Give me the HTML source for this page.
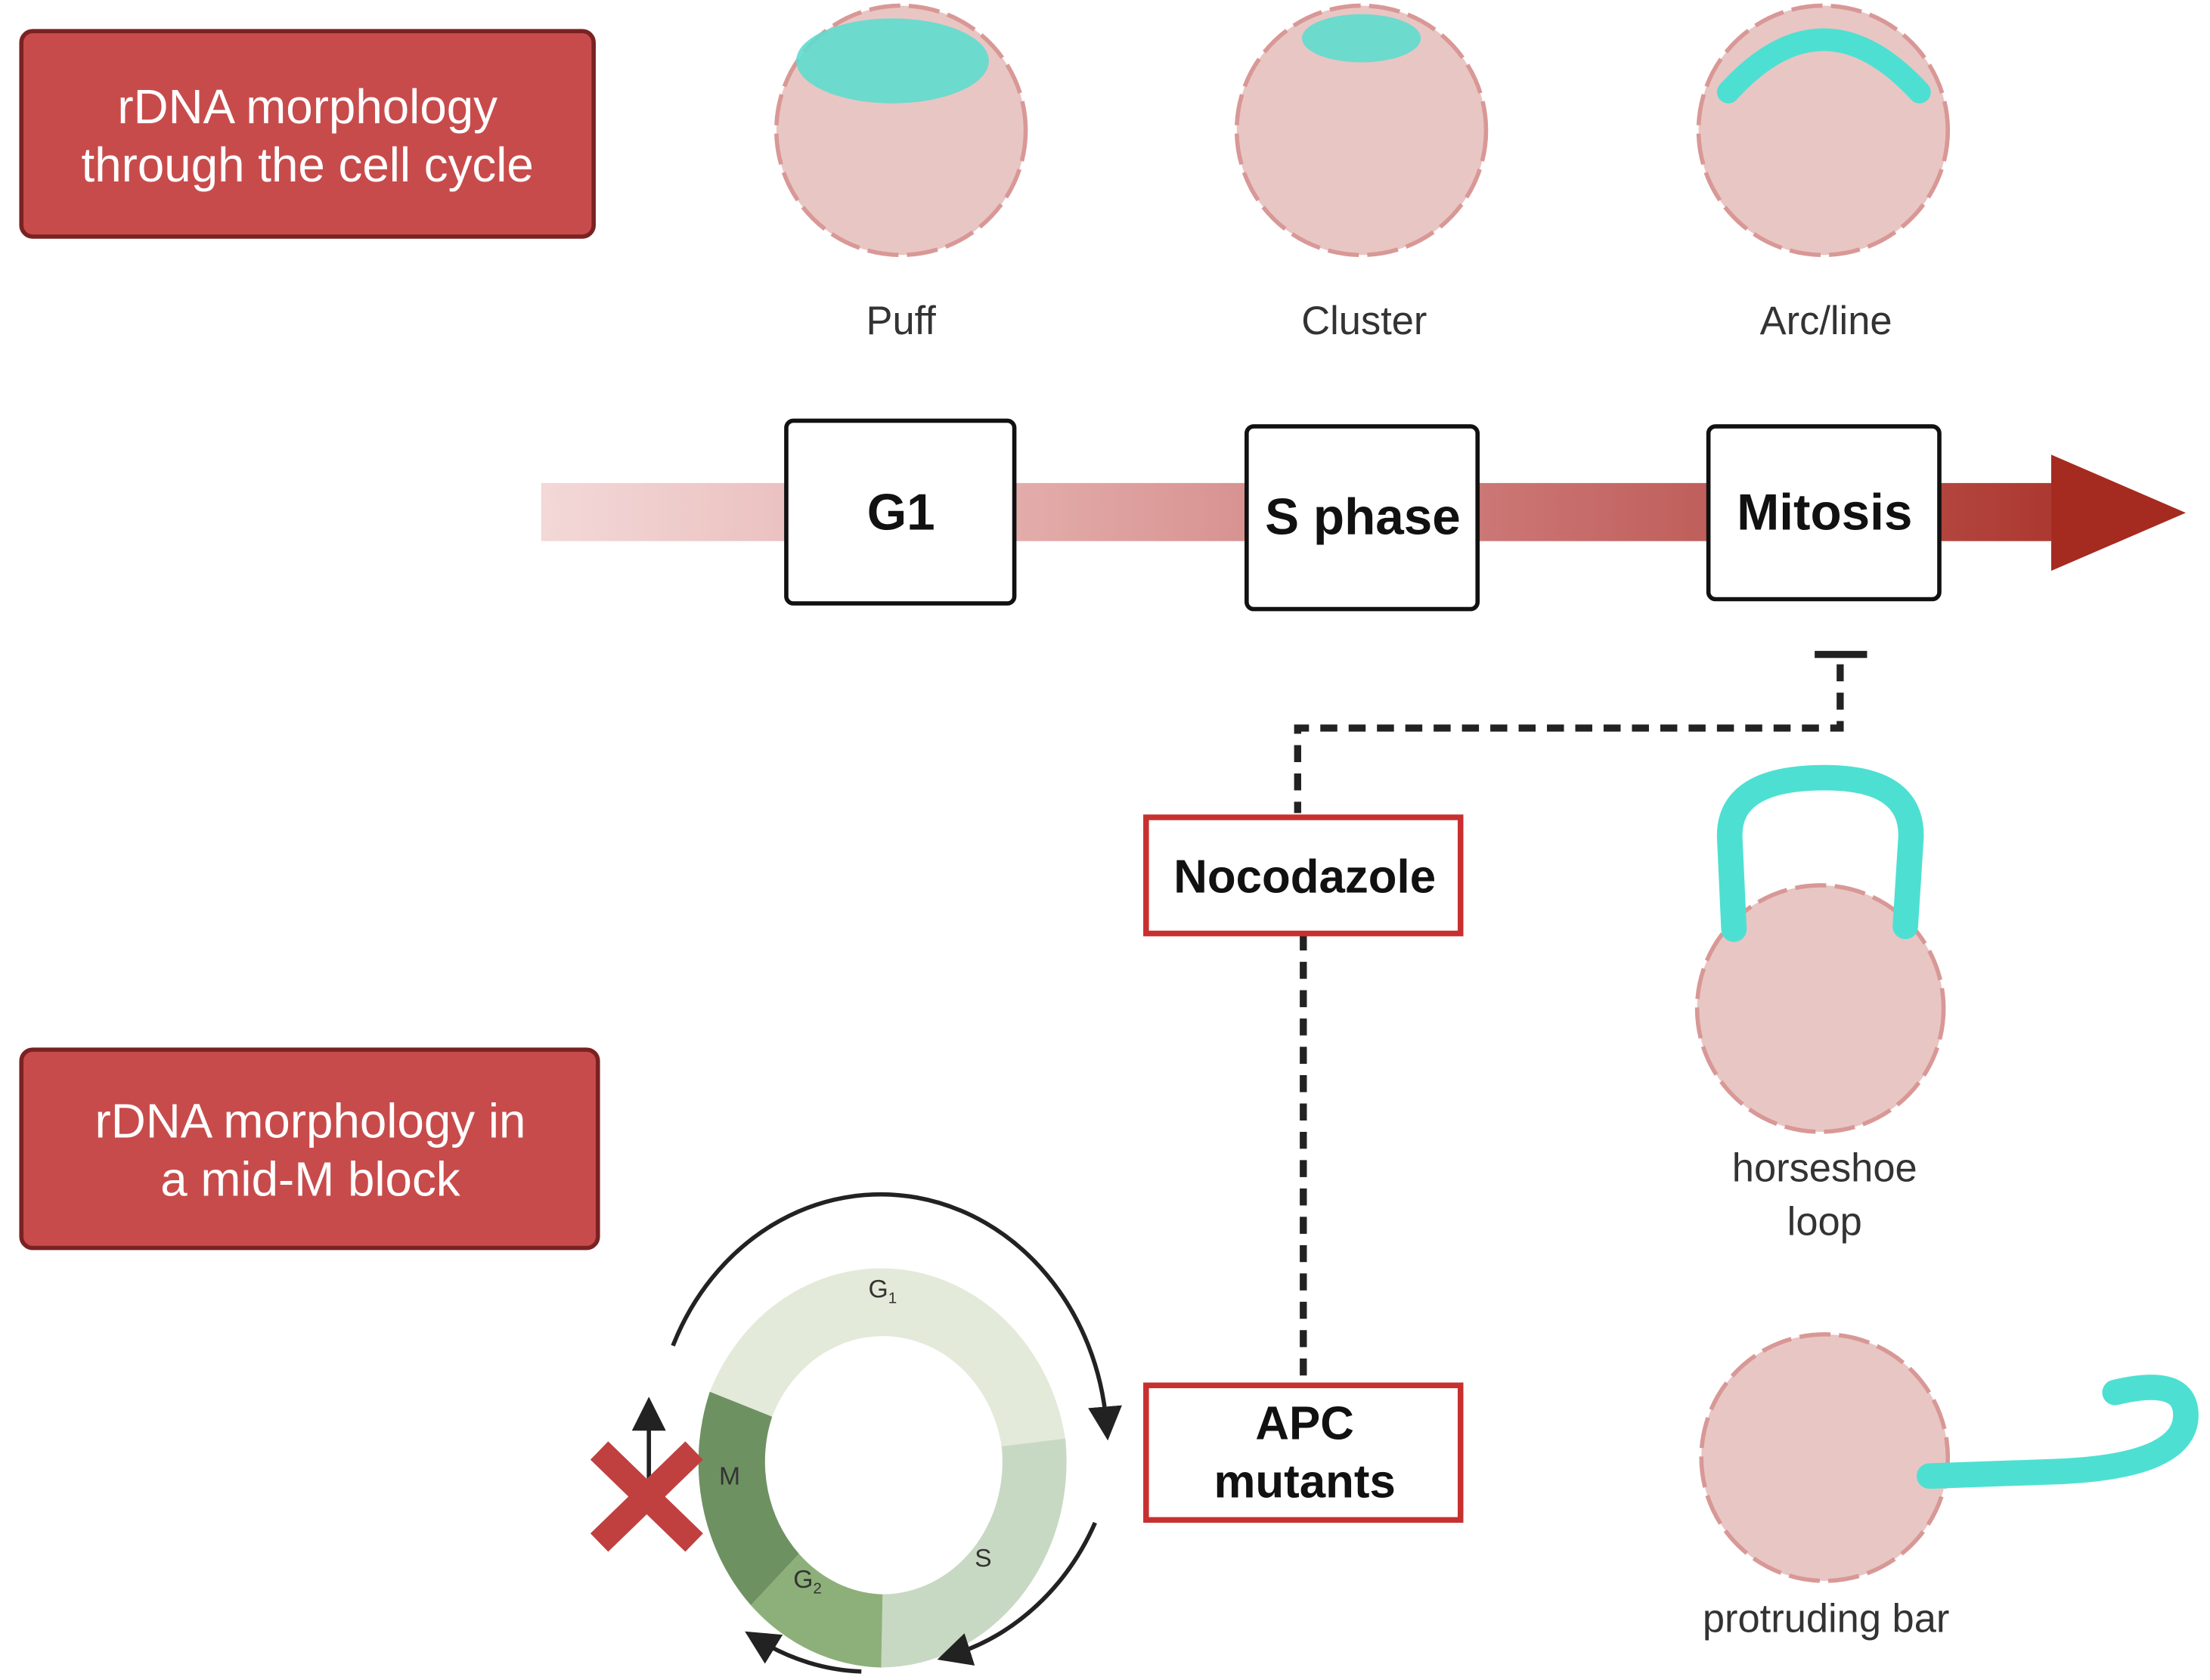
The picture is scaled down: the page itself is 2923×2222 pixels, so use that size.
<!DOCTYPE html>
<html><head><style>html,body{margin:0;padding:0;background:#fff}svg{display:block}</style></head>
<body>
<svg width="2923" height="2222" viewBox="0 0 1560 1186" xmlns="http://www.w3.org/2000/svg" font-family="Liberation Sans, sans-serif">
<defs>
<linearGradient id="ag" x1="384" x2="1545" y1="0" y2="0" gradientUnits="userSpaceOnUse">
<stop offset="0" stop-color="#f3d8d8"/><stop offset="0.3" stop-color="#e2aaa8"/><stop offset="0.6" stop-color="#c97270"/><stop offset="1" stop-color="#a52a20"/>
</linearGradient>
<marker id="ah" markerWidth="8" markerHeight="8" refX="4" refY="4" orient="auto" markerUnits="strokeWidth"><path d="M0,0 L8,4 L0,8 z" fill="#222"/></marker>
</defs>
<rect x="15" y="22" width="404" height="145" rx="8" fill="#c84b4b" stroke="#7a2222" stroke-width="3"/>
<text x="217" y="87" fill="#fff" font-size="34" text-anchor="middle">rDNA morphology</text>
<text x="217" y="128" fill="#fff" font-size="34" text-anchor="middle">through the cell cycle</text>
<rect x="15" y="741" width="407" height="140" rx="8" fill="#c84b4b" stroke="#7a2222" stroke-width="3"/>
<text x="219" y="803" fill="#fff" font-size="34" text-anchor="middle">rDNA morphology in</text>
<text x="219" y="844" fill="#fff" font-size="34" text-anchor="middle">a mid-M block</text>
<g fill="#e8c6c4" stroke="#d89896" stroke-width="3" stroke-dasharray="22 6">
<circle cx="636" cy="92" r="88"/><circle cx="961" cy="92" r="88"/><circle cx="1287" cy="92" r="88"/>
<circle cx="1285" cy="712" r="87"/><circle cx="1288" cy="1029" r="87"/>
</g>
<ellipse cx="630" cy="43" rx="68" ry="30" fill="#5fdccf" opacity="0.9"/>
<ellipse cx="961" cy="27" rx="42" ry="17" fill="#5fdccf" opacity="0.9"/>
<path d="M1220 65 Q1287 -9 1355 65" fill="none" stroke="#4de0d2" stroke-width="16" stroke-linecap="round"/>
<path d="M1224 656 L1221 591 Q1220 549 1288 549 Q1350 549 1349 591 L1345 654" fill="none" stroke="#4de0d2" stroke-width="18" stroke-linecap="round"/>
<path d="M1362 1042 L1448 1039 Q1543 1036 1543 999 Q1543 971 1493 983" fill="none" stroke="#4de0d2" stroke-width="18" stroke-linecap="round"/>
<g fill="#333" font-size="28" text-anchor="middle">
<text x="636" y="236">Puff</text><text x="963" y="236">Cluster</text><text x="1289" y="236">Arc/line</text>
<text x="1288" y="834">horseshoe</text><text x="1288" y="872">loop</text><text x="1289" y="1152">protruding bar</text>
</g>
<rect x="382" y="341" width="1066" height="41" fill="url(#ag)"/>
<path d="M1448 321 L1543 362 L1448 403 z" fill="#a52a20"/>
<g fill="#fff" stroke="#111" stroke-width="3">
<rect x="555" y="297" width="161" height="129" rx="5"/>
<rect x="880" y="301" width="163" height="129" rx="5"/>
<rect x="1206" y="301" width="163" height="122" rx="5"/>
</g>
<g font-weight="bold" font-size="36" text-anchor="middle" fill="#111">
<text x="636" y="374">G1</text><text x="962" y="377">S phase</text><text x="1288" y="374">Mitosis</text>
</g>
<line x1="1281" y1="462" x2="1318" y2="462" stroke="#222" stroke-width="5"/>
<path d="M1299 469 V514 H916 V574" fill="none" stroke="#222" stroke-width="5" stroke-dasharray="12 8"/>
<line x1="920" y1="659" x2="920" y2="977" stroke="#222" stroke-width="5" stroke-dasharray="12 8"/>
<g fill="#fff" stroke="#c83030" stroke-width="4">
<rect x="809" y="577" width="222" height="82"/><rect x="809" y="978" width="222" height="95"/>
</g>
<g font-weight="bold" font-size="33" text-anchor="middle" fill="#111">
<text x="921" y="630">Nocodazole</text><text x="921" y="1016">APC</text><text x="921" y="1057">mutants</text>
</g>
<g transform="translate(625,1032) scale(1,1.1)">
<path d="M-124 -45 A132 132 0 0 1 127 -15 L82 -10 A85 85 0 0 0 -80 -29 z" fill="#e3ead9"/>
<path d="M127 -15 A132 132 0 0 1 -3 132 L-2 85 A85 85 0 0 0 82 -10 z" fill="#c8d9c3"/>
<path d="M-3 132 A132 132 0 0 1 -95 92 L-61 59 A85 85 0 0 0 -2 85 z" fill="#8db07a"/>
<path d="M-95 92 A132 132 0 0 1 -124 -45 L-80 -29 A85 85 0 0 0 -61 59 z" fill="#6e9162"/>
</g>
<g fill="#333" font-size="18" text-anchor="middle">
<text x="623" y="916">G<tspan font-size="11" dy="4">1</tspan></text>
<text x="694" y="1106">S</text>
<text x="570" y="1121">G<tspan font-size="11" dy="4">2</tspan></text>
<text x="515" y="1048">M</text>
</g>
<g fill="none" stroke="#222" stroke-width="3">
<path d="M475 950 A160 178 0 0 1 781 1005" marker-end="url(#ah)"/>
<path d="M773 1075 A160 178 0 0 1 673 1168" marker-end="url(#ah)"/>
<path d="M608 1180 A160 178 0 0 1 536 1158" marker-end="url(#ah)"/>
<line x1="458" y1="1060" x2="458" y2="998" marker-end="url(#ah)"/>
</g>
<g stroke="#c04040" stroke-width="18">
<line x1="423" y1="1024" x2="490" y2="1089"/><line x1="490" y1="1024" x2="423" y2="1089"/>
</g>
</svg>
</body></html>
